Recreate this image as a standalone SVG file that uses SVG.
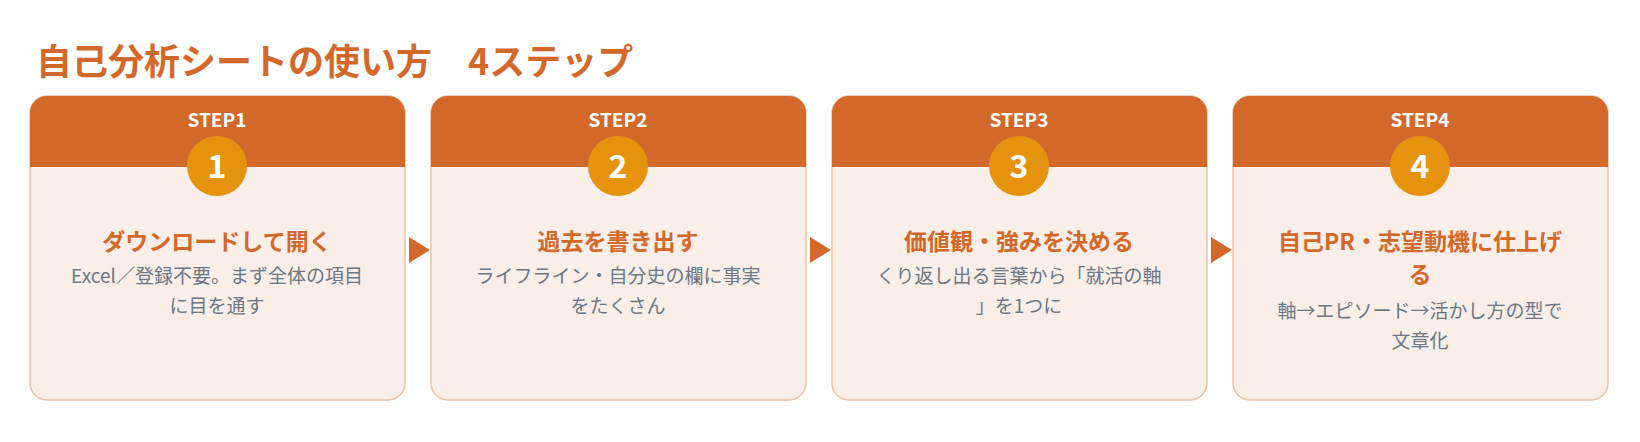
<svg xmlns="http://www.w3.org/2000/svg" width="1640" height="442" viewBox="0 0 1640 442">
<style>
text{font-family:"Noto Sans CJK JP","Noto Sans",sans-serif;text-anchor:middle}
.title{font-size:36px;font-weight:700;fill:#D2692A;text-anchor:start}
.body{fill:#F9EEE8;stroke:#EBC4A5;stroke-width:1.5}
.head{fill:#D2692A}
.step{font-size:19px;font-weight:700;fill:#fff}
.circ{fill:#E5930F}
.num{font-size:32px;font-weight:700;fill:#fff}
.h{font-size:23px;font-weight:700;fill:#D2692A}
.d{font-size:19px;fill:#6B7785}
.arr{fill:#D2692A}
</style>
<defs>
<clipPath id="c1"><rect x="30" y="96" width="375" height="304" rx="17"/></clipPath>
<clipPath id="c2"><rect x="431" y="96" width="375" height="304" rx="17"/></clipPath>
<clipPath id="c3"><rect x="832" y="96" width="375" height="304" rx="17"/></clipPath>
<clipPath id="c4"><rect x="1233" y="96" width="375" height="304" rx="17"/></clipPath>
</defs>
<text class="title" x="36" y="75">自己分析シートの使い方　4ステップ</text>
<g id="step1">
<rect class="body" x="30" y="96" width="375" height="304" rx="17"/>
<rect class="head" x="30" y="96" width="375" height="71" clip-path="url(#c1)"/>
<text class="step" x="217" y="127">STEP1</text>
<circle class="circ" cx="217" cy="166" r="30"/>
<text class="num" x="217" y="178">1</text>
<text class="h" x="217" y="250">ダウンロードして開く</text>
<text class="d" x="217" y="283">Excel／登録不要。まず全体の項目</text>
<text class="d" x="217" y="313">に目を通す</text>
</g>
<g id="step2">
<rect class="body" x="431" y="96" width="375" height="304" rx="17"/>
<rect class="head" x="431" y="96" width="375" height="71" clip-path="url(#c2)"/>
<text class="step" x="618" y="127">STEP2</text>
<circle class="circ" cx="618" cy="166" r="30"/>
<text class="num" x="618" y="178">2</text>
<text class="h" x="618" y="250">過去を書き出す</text>
<text class="d" x="618" y="283">ライフライン・自分史の欄に事実</text>
<text class="d" x="618" y="313">をたくさん</text>
</g>
<g id="step3">
<rect class="body" x="832" y="96" width="375" height="304" rx="17"/>
<rect class="head" x="832" y="96" width="375" height="71" clip-path="url(#c3)"/>
<text class="step" x="1019" y="127">STEP3</text>
<circle class="circ" cx="1019" cy="166" r="30"/>
<text class="num" x="1019" y="178">3</text>
<text class="h" x="1019" y="250">価値観・強みを決める</text>
<text class="d" x="1019" y="283">くり返し出る言葉から「就活の軸</text>
<text class="d" x="1019" y="313">」を1つに</text>
</g>
<g id="step4">
<rect class="body" x="1233" y="96" width="375" height="304" rx="17"/>
<rect class="head" x="1233" y="96" width="375" height="71" clip-path="url(#c4)"/>
<text class="step" x="1420" y="127">STEP4</text>
<circle class="circ" cx="1420" cy="166" r="30"/>
<text class="num" x="1420" y="178">4</text>
<text class="h" x="1420" y="250">自己PR・志望動機に仕上げ</text>
<text class="h" x="1420" y="283">る</text>
<text class="d" x="1420" y="318">軸→エピソード→活かし方の型で</text>
<text class="d" x="1420" y="348">文章化</text>
</g>
<g id="connectors">
<polygon class="arr" points="409,237 430,250 409,263"/>
<polygon class="arr" points="810,237 831,250 810,263"/>
<polygon class="arr" points="1211,237 1232,250 1211,263"/>
</g>
</svg>
